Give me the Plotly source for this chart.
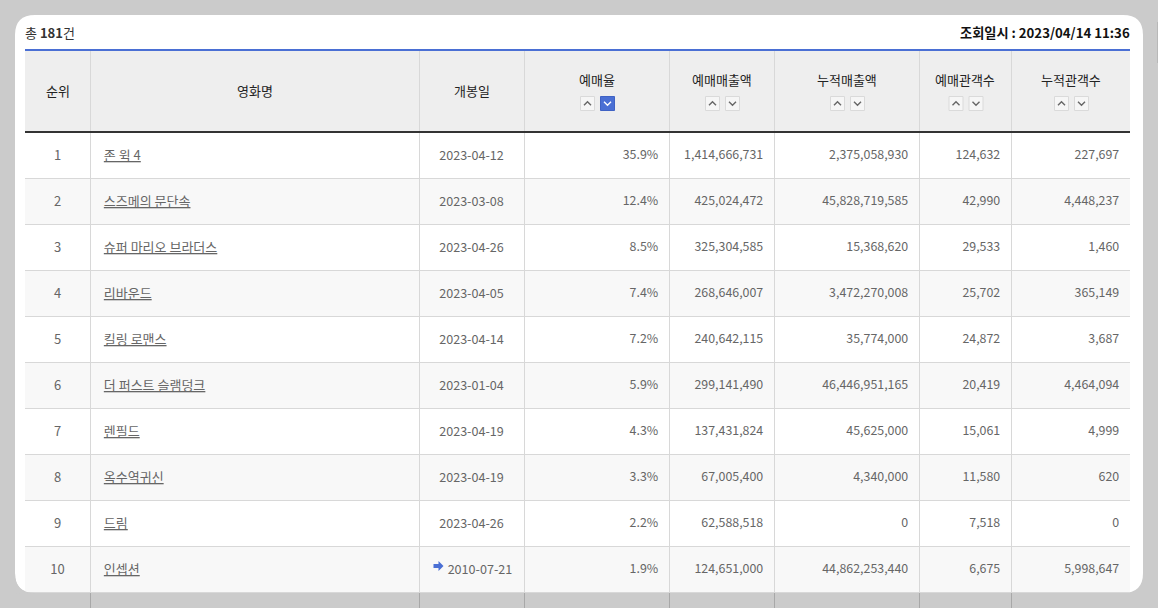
import plotly.graph_objects as go

# 예매율 순위 데이터
ranks = [1, 2, 3, 4, 5, 6, 7, 8, 9, 10]
titles = ["존 윅 4", "스즈메의 문단속", "슈퍼 마리오 브라더스", "리바운드", "킬링 로맨스",
          "더 퍼스트 슬램덩크", "렌필드", "옥수역귀신", "드림", "인셉션"]
open_dates = ["2023-04-12", "2023-03-08", "2023-04-26", "2023-04-05", "2023-04-14",
              "2023-01-04", "2023-04-19", "2023-04-19", "2023-04-26", "2010-07-21"]
rates = [35.9, 12.4, 8.5, 7.4, 7.2, 5.9, 4.3, 3.3, 2.2, 1.9]
sales = [1414666731, 425024472, 325304585, 268646007, 240642115,
         299141490, 137431824, 67005400, 62588518, 124651000]
total_sales = [2375058930, 45828719585, 15368620, 3472270008, 35774000,
               46446951165, 45625000, 4340000, 0, 44862253440]
audience = [124632, 42990, 29533, 25702, 24872, 20419, 15061, 11580, 7518, 6675]
total_audience = [227697, 4448237, 1460, 365149, 3687, 4464094, 4999, 620, 0, 5998647]

headers = ["순위", "영화명", "개봉일", "예매율", "예매매출액", "누적매출액", "예매관객수", "누적관객수"]
sortable = [False, False, False, True, True, True, True, True]
col_edges = [25, 90, 419, 524, 669, 774, 919, 1011, 1130]

W, H = 1158, 608
BLUE = "#4a6fd4"
GRID = "#d8d8d8"
CLEAR = "rgba(0,0,0,0)"
FONT = "Noto Sans CJK KR"
NB = "\u00a0"
HEAD_TOP, HEAD_BOTTOM, ROW_H = 51, 132, 46
TEXT_SHIFT = -10  # 표 글자는 칸 안에서 아래로 치우쳐서 표 전체를 조금 올린다


def px(x):
    return x / W


def py(y):
    return 1 - y / H


def path(points):
    return "M " + " L ".join(f"{px(x)},{py(y)}" for x, y in points)


def rect(x0, x1, y0, y1, fill, line=None, layer="below"):
    return dict(type="rect", xref="paper", yref="paper", layer=layer,
                x0=px(x0), x1=px(x1), y0=py(y1), y1=py(y0), fillcolor=fill,
                line=dict(color=line, width=1) if line else dict(width=0))


def vline(x, y0, y1, color):
    return dict(type="line", xref="paper", yref="paper", layer="below",
                x0=px(x), x1=px(x), y0=py(y0), y1=py(y1), line=dict(color=color, width=1))


def hline(y, color):
    return dict(type="line", xref="paper", yref="paper", layer="below",
                x0=px(col_edges[0]), x1=px(col_edges[-1]), y0=py(y), y1=py(y), line=dict(color=color, width=1))


def span(values):
    # 마크업이 있어야 밑줄 글자와 세로 위치가 같아진다
    return [f"<span>{v}</span>" for v in values]


n_rows = len(ranks)
table_bottom = HEAD_BOTTOM + ROW_H * n_rows

fig = go.Figure()

# 본문 글자는 표로, 칸 배경과 선은 도형으로 그린다
date_cells = open_dates[:-1] + [NB * 6 + open_dates[-1]]
fig.add_trace(go.Table(
    domain=dict(x=[px(col_edges[0]), px(col_edges[-1])],
                y=[py(table_bottom + TEXT_SHIFT), py(HEAD_BOTTOM + TEXT_SHIFT - 1)]),
    columnwidth=[b - a for a, b in zip(col_edges, col_edges[1:])],
    header=dict(height=1, fill_color=CLEAR, line=dict(color=CLEAR, width=0)),
    cells=dict(
        values=[
            span(ranks),
            ["<u>" + t.replace(" ", NB) + "</u>" for t in titles],
            span(date_cells),
            span(f"{r:.1f}%" for r in rates),
            span(f"{v:,}" for v in sales),
            span(f"{v:,}" for v in total_sales),
            span(f"{v:,}" for v in audience),
            span(f"{v:,}" for v in total_audience),
        ],
        prefix=["", NB + NB, "", "", "", "", "", ""],
        suffix=["", "", "", NB, NB, NB, NB, NB],
        height=ROW_H,
        align=["center", "left", "center", "right", "right", "right", "right", "right"],
        fill_color=CLEAR,
        line=dict(color=CLEAR, width=0),
        font=dict(family=FONT, size=[13, 13, 12.6, 12.4, 12.4, 12.4, 12.4, 12.4], color="#666666"),
    ),
))

shapes = []
# 패널 아래로 이어지는 세로선
for e in col_edges[1:-1]:
    shapes.append(vline(e + 0.5, table_bottom, H, "#a8a8a8"))
# 오른쪽 스크롤바
shapes.append(rect(1157, 1158, 22, 63, "#b8b8b8"))
# 흰 패널
R = 20
B = 593
shapes.append(dict(type="path", xref="paper", yref="paper", layer="below", line_width=0, fillcolor="#ffffff",
                   path=f"M {px(15 + R)},{py(15)} L {px(1143 - R)},{py(15)} Q {px(1143)},{py(15)} {px(1143)},{py(15 + R)} "
                        f"L {px(1143)},{py(B - R)} Q {px(1143)},{py(B)} {px(1143 - R)},{py(B)} "
                        f"L {px(15 + R)},{py(B)} Q {px(15)},{py(B)} {px(15)},{py(B - R)} "
                        f"L {px(15)},{py(15 + R)} Q {px(15)},{py(15)} {px(15 + R)},{py(15)} Z"))
# 헤더 배경과 줄무늬
shapes.append(rect(col_edges[0], col_edges[-1], HEAD_TOP, HEAD_BOTTOM, "#eeeeee"))
for i in range(1, n_rows, 2):
    shapes.append(rect(col_edges[0], col_edges[-1], HEAD_BOTTOM + ROW_H * i, HEAD_BOTTOM + ROW_H * (i + 1), "#f8f8f8"))
# 격자
for e in col_edges[1:-1]:
    shapes.append(vline(e + 0.5, HEAD_TOP, table_bottom, GRID))
for i in range(1, n_rows + 1):
    shapes.append(hline(HEAD_BOTTOM + ROW_H * i + 0.5, GRID))
# 헤더 위 파란선, 아래 검은선
shapes.append(rect(col_edges[0], col_edges[-1], 49, 51, BLUE))
shapes.append(rect(col_edges[0], col_edges[-1], 131, 133, "#333333"))
# 왼쪽 아래 모서리 밖으로 나온 줄무늬 가리기
shapes.append(dict(type="path", xref="paper", yref="paper", layer="below", line_width=0, fillcolor="#cbcbcb",
                   path=f"M {px(15)},{py(B - R)} Q {px(15)},{py(B)} {px(15 + R)},{py(B)} "
                        f"L {px(15)},{py(B + 1)} Z"))

# 정렬 버튼
for i, s in enumerate(sortable):
    if not s:
        continue
    c = (col_edges[i] + col_edges[i + 1]) / 2
    for bx, up in ((c - 9, True), (c + 11, False)):
        active = headers[i] == "예매율" and not up
        shapes.append(rect(bx - 7, bx + 7, 96.5, 110.5, BLUE if active else "#f6f6f6",
                           "#3f62c4" if active else "#dadada"))
        d = -1.7 if up else 1.7
        shapes.append(dict(type="path", xref="paper", yref="paper", layer="below",
                           path=path([(bx - 3.5, 103.5 - d), (bx, 103.5 + d), (bx + 3.5, 103.5 - d)]),
                           line=dict(color="#ffffff" if active else "#666666", width=1.4)))

# 개봉일 앞 화살표
ax, ay = 438.5, 566
shapes.append(dict(type="path", xref="paper", yref="paper", layer="below", line_width=0, fillcolor=BLUE,
                   path=path([(ax - 5, ay - 2), (ax, ay - 2), (ax, ay - 5), (ax + 5, ay),
                              (ax, ay + 5), (ax, ay + 2), (ax - 5, ay + 2)]) + " Z"))

annotations = [
    dict(text="총 <b>181</b>건", xref="paper", yref="paper", x=px(23), y=py(33), xanchor="left", yanchor="middle",
         showarrow=False, font=dict(family=FONT, size=13, color="#333333")),
    dict(text="<b>조회일시 : 2023/04/14 11:36</b>", xref="paper", yref="paper", x=px(1132), y=py(33),
         xanchor="right", yanchor="middle", showarrow=False, font=dict(family=FONT, size=13.2, color="#111111")),
]
for i, h in enumerate(headers):
    annotations.append(dict(text=h, xref="paper", yref="paper",
                            x=px((col_edges[i] + col_edges[i + 1]) / 2), y=py(79 if sortable[i] else 90),
                            xanchor="center", yanchor="middle", showarrow=False,
                            font=dict(family=FONT, size=13, color="#222222")))

fig.update_layout(
    width=W, height=H,
    margin=dict(l=0, r=0, t=0, b=0),
    paper_bgcolor="#cbcbcb",
    shapes=shapes,
    annotations=annotations,
)

fig.write_html("out.html", config=dict(displayModeBar=False), post_script="document.body.style.margin = '0';")
